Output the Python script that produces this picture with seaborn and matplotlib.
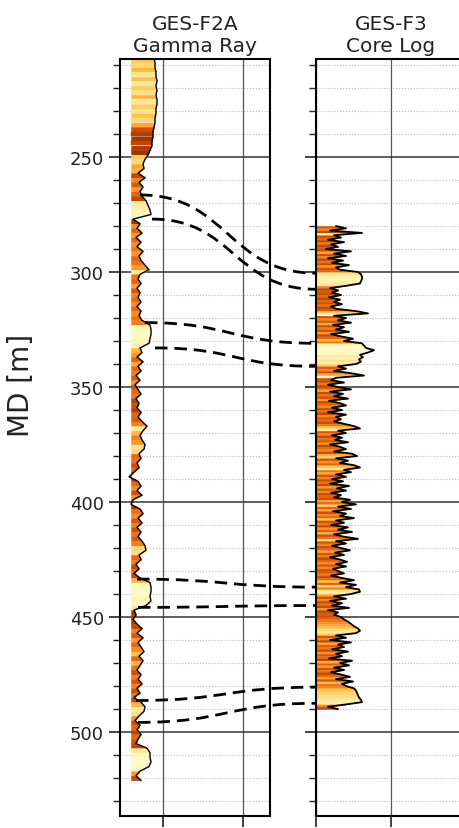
import numpy as np
import matplotlib
matplotlib.use("Agg")
import matplotlib.pyplot as plt
from matplotlib.ticker import MultipleLocator
from matplotlib.path import Path
from matplotlib.patches import PathPatch
import seaborn as sns

# GES-F2A gamma ray, one sample every 2 m from 207 m
gr_top = 207
gr_step = 2
gr_values = [
    34, 35, 35, 36, 36, 37, 36, 37, 36, 37,
    37, 36, 36, 35, 35, 34, 33, 33, 32, 32,
    30, 28, 25, 23, 24, 18, 25, 19, 23, 20,
    22, 26, 28, 30, 31, 13, 20, 17, 22, 16,
    21, 17, 23, 19, 21, 25, 29, 20, 18, 21,
    17, 20, 18, 21, 17, 21, 19, 22, 30, 31,
    31, 30, 29, 20, 22, 17, 23, 18, 21, 16,
    20, 15, 18, 21, 16, 19, 17, 21, 18, 22,
    27, 23, 20, 22, 25, 24, 19, 21, 17, 19,
    14, 9, 18, 21, 17, 22, 13, 11, 20, 23,
    18, 22, 17, 21, 18, 22, 25, 26, 19, 21,
    16, 19, 14, 20, 30, 31, 31, 30, 31, 26,
    14, 16, 13, 17, 22, 17, 23, 18, 21, 24,
    19, 23, 20, 17, 21, 18, 22, 17, 20, 14,
    21, 25, 24, 19, 15, 20, 17, 21, 18, 16,
    27, 30, 30, 31, 29, 20, 16, 21,
]
# shading of the gamma ray fill (0 = dark brown, 1 = pale yellow)
gr_shade = [
    0.70, 0.75, 0.60, 0.80, 0.65, 0.85, 0.70, 0.80, 0.60, 0.85,
    0.70, 0.80, 0.65, 0.75, 0.55, 0.20, 0.10, 0.05, 0.15, 0.10,
    0.05, 0.70, 0.75, 0.55, 0.60, 0.15, 0.45, 0.25, 0.50, 0.30,
    0.15, 0.85, 0.90, 0.95, 0.98, 0.05, 0.45, 0.30, 0.50, 0.30,
    0.45, 0.35, 0.50, 0.30, 0.35, 0.50, 0.90, 0.35, 0.30, 0.50,
    0.25, 0.40, 0.30, 0.45, 0.30, 0.45, 0.35, 0.40, 0.95, 1.00,
    1.00, 0.95, 0.90, 0.60, 0.50, 0.30, 0.55, 0.30, 0.40, 0.25,
    0.45, 0.20, 0.30, 0.35, 0.10, 0.20, 0.10, 0.30, 0.25, 0.40,
    0.85, 0.60, 0.40, 0.50, 0.80, 0.75, 0.30, 0.35, 0.20, 0.30,
    0.10, 0.05, 0.30, 0.45, 0.20, 0.45, 0.10, 0.05, 0.35, 0.45,
    0.25, 0.40, 0.20, 0.35, 0.25, 0.40, 0.75, 0.80, 0.30, 0.40,
    0.15, 0.30, 0.15, 0.60, 0.95, 1.00, 1.00, 0.95, 1.00, 0.85,
    0.05, 0.10, 0.05, 0.15, 0.40, 0.25, 0.50, 0.30, 0.45, 0.65,
    0.30, 0.60, 0.35, 0.20, 0.40, 0.25, 0.40, 0.20, 0.35, 0.15,
    0.60, 0.85, 0.80, 0.45, 0.20, 0.30, 0.15, 0.30, 0.20, 0.15,
    0.85, 0.95, 1.00, 1.00, 0.95, 0.50, 0.15, 0.40,
]

# GES-F3 core log, one sample every metre from 280 m
core_top = 280
core_step = 1
core_values = [
    20, 30, 14, 46, 18, 25, 12, 28, 15, 22,
    10, 35, 18, 30, 12, 27, 16, 33, 20, 24,
    42, 45, 46, 46, 45, 44, 30, 14, 22, 16,
    25, 13, 24, 18, 26, 15, 20, 40, 52, 18,
    30, 22, 35, 17, 28, 20, 33, 15, 25, 37,
    28, 46, 48, 50, 58, 52, 44, 47, 43, 45,
    40, 22, 30, 18, 35, 48, 20, 15, 28, 12,
    22, 35, 14, 27, 18, 32, 13, 24, 30, 16,
    26, 12, 30, 20, 25, 18, 28, 38, 44, 22,
    30, 16, 26, 19, 32, 14, 24, 30, 18, 36,
    41, 20, 32, 24, 38, 44, 28, 35, 20, 30,
    16, 27, 14, 33, 21, 30, 15, 25, 18, 34,
    26, 40, 22, 35, 17, 30, 24, 38, 20, 28,
    15, 32, 22, 36, 18, 27, 42, 20, 30, 16,
    25, 34, 19, 28, 14, 24, 31, 20, 30, 17,
    22, 28, 15, 26, 38, 24, 40, 30, 43, 44,
    35, 18, 30, 14, 26, 16, 33, 12, 22, 18,
    25, 28, 32, 35, 38, 42, 44, 40, 20, 30,
    14, 35, 22, 28, 16, 32, 20, 26, 13, 36,
    24, 33, 18, 28, 15, 25, 34, 20, 37, 26,
    30, 38, 40, 41, 42, 43, 45, 46, 30, 12,
    22,
]

# correlated tops: depth in GES-F2A, depth in GES-F3, start of the line on the GR track
tops_f2a = [266.5, 277.0, 322.0, 333.0, 433.5, 445.8, 486.3, 495.8]
tops_f3 = [300.5, 307.5, 331.0, 341.0, 437.0, 445.0, 480.5, 487.5]
tops_gr_x = [20, 32, 25, 35, 17, 18, 16, 18]

titles = ["GES-F2A\nGamma Ray", "GES-F3\nCore Log"]

gr_depth = gr_top + gr_step * np.arange(len(gr_values))
core_depth = core_top + core_step * np.arange(len(core_values))

sns.set_style("ticks")
plt.rcParams["font.family"] = ["DejaVu Sans"]
cmap = plt.get_cmap("YlOrBr")

fig = plt.figure(figsize=(4.6, 8.29), dpi=100)
ax1 = fig.add_axes([120 / 460, 12 / 829, 150 / 460, 757 / 829])
ax2 = fig.add_axes([316 / 460, 12 / 829, 150 / 460, 757 / 829])


def fill_log(ax, depth, vals, base, shade, lw):
    # horizontal colour bands between the base line and the curve
    for i in range(len(depth) - 1):
        c = cmap(0.9 - 0.8 * shade[i])
        ax.fill_betweenx(depth[i:i + 2], base, vals[i:i + 2], color=c,
                         lw=0.3, edgecolor=c, zorder=2)
    sns.lineplot(x=vals, y=depth, orient="y", color="black", lw=lw,
                 ax=ax, zorder=3)


fill_log(ax1, gr_depth, np.array(gr_values, float), 11, gr_shade, 1.0)
core_arr = np.array(core_values, float)
core_shade = 0.15 + 0.85 * np.clip((core_arr - 10) / 38, 0, 1) ** 1.8
fill_log(ax2, core_depth, core_arr, 0, core_shade, 1.3)

for ax, title in zip([ax1, ax2], titles):
    ax.set_ylim(536.5, 207.4)
    ax.set_xlim(0, 150)
    ax.yaxis.set_major_locator(MultipleLocator(50))
    ax.yaxis.set_minor_locator(MultipleLocator(10))
    ax.grid(which="major", axis="y", color="#333333", lw=1.1, zorder=1)
    ax.grid(which="major", axis="x", color="#555555", lw=0.9, zorder=1)
    ax.grid(which="minor", axis="y", color="#bdbdbd", lw=0.8, ls=":", zorder=1)
    ax.tick_params(axis="both", which="major", length=8, width=1.2,
                   labelsize=13, labelbottom=False, colors="#222222")
    ax.tick_params(axis="y", which="minor", length=5, width=1.0)
    for sp in ax.spines.values():
        sp.set_linewidth(1.5)
        sp.set_color("black")
    ax.set_title(title, fontsize=14.5, color="#222222")
    ax.set_xlabel("")
    ax.set_ylabel("")

ax1.set_xticks([43, 123])
ax2.set_xticks([0, 75, 150])
ax2.tick_params(axis="y", labelleft=False)

ax1.set_ylabel("MD [m]", fontsize=20, color="#222222")
ax1.yaxis.set_label_coords(-0.57, 0.57)

# dashed correlation lines between the tracks
to_fig = fig.transFigure.inverted()
for d1, d2, x1 in zip(tops_f2a, tops_f3, tops_gr_x):
    p0 = ax1.transData.transform((x1, d1))
    p3 = ax2.transData.transform((0, d2))
    c = 0.5 * (p3[0] - p0[0])
    pts = [p0, (p0[0] + c, p0[1]), (p3[0] - c, p3[1]), p3]
    verts = to_fig.transform(pts)
    path = Path(verts, [Path.MOVETO, Path.CURVE4, Path.CURVE4, Path.CURVE4])
    fig.add_artist(PathPatch(path, transform=fig.transFigure, fill=False,
                             ec="black", lw=2, ls=(0, (4.5, 2.5)), zorder=10))

fig.savefig("out.png", dpi=100)
